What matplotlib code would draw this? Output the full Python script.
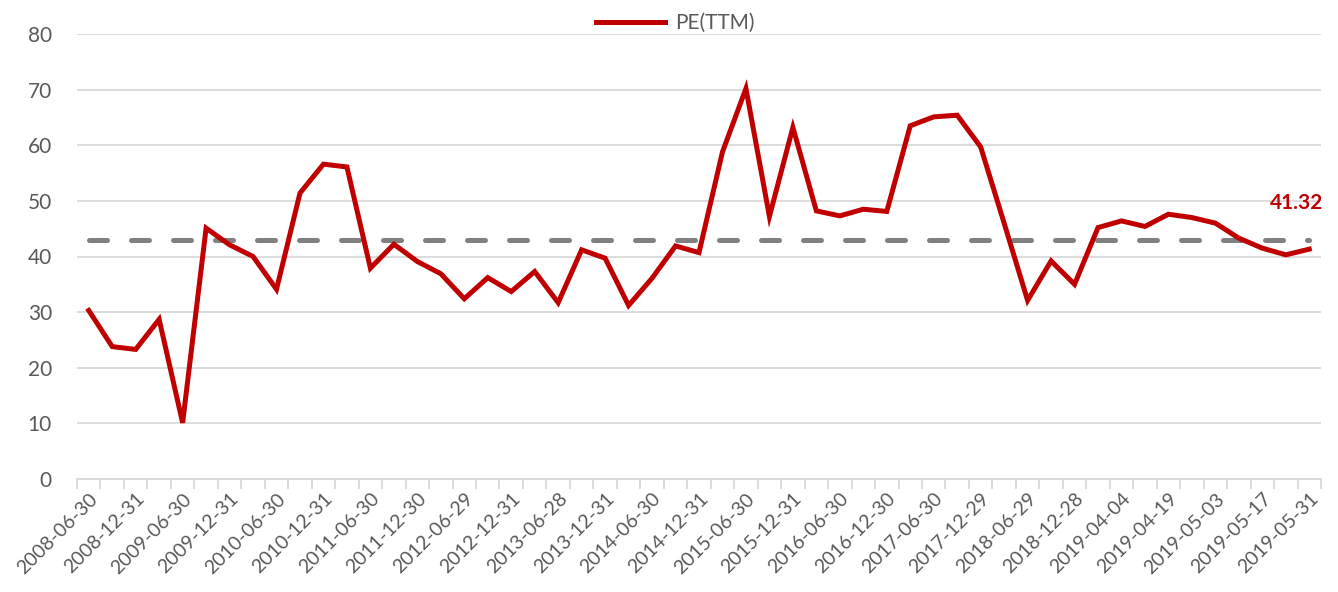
import matplotlib
matplotlib.use("Agg")
import matplotlib.pyplot as plt
import numpy as np

labels = ["2008-06-30", "2008-12-31", "2009-06-30", "2009-12-31", "2010-06-30",
          "2010-12-31", "2011-06-30", "2011-12-30", "2012-06-29", "2012-12-31",
          "2013-06-28", "2013-12-31", "2014-06-30", "2014-12-31", "2015-06-30",
          "2015-12-31", "2016-06-30", "2016-12-30", "2017-06-30", "2017-12-29",
          "2018-06-29", "2018-12-28", "2019-04-04", "2019-04-19", "2019-05-03",
          "2019-05-17", "2019-05-31"]

pe_ttm = [30.3, 23.8, 23.3, 28.7, 10.1, 45.1, 42.1, 40.0, 34.1, 51.4,
          56.6, 56.1, 37.9, 42.2, 39.1, 36.9, 32.4, 36.2, 33.7, 37.3,
          31.7, 41.2, 39.7, 31.2, 36.1, 41.9, 40.7, 58.8, 70.2, 47.2,
          63.2, 48.2, 47.3, 48.5, 48.1, 63.5, 65.1, 65.4, 59.7, 46.0,
          32.1, 39.2, 35.0, 45.2, 46.4, 45.4, 47.6, 47.0, 46.0, 43.3,
          41.5, 40.3, 41.32]

mean_value = 43.0

yticks = [0, 10, 20, 30, 40, 50, 60, 70, 80]

red = "#C00000"
grey_txt = "#595959"
grid_c = "#D9D9D9"
font = "Lato"

fig = plt.figure(figsize=(13.38, 5.92), dpi=100)
ax = fig.add_axes([77/1338, 1 - 479/592, (1321-77)/1338, (479-34)/592])
ax.set_facecolor("white")

n = len(pe_ttm)
x = np.arange(n)

ax.plot(x, [mean_value]*n, color="#808080", lw=3.6, dashes=(3.6, 4.8),
        dash_capstyle="round", solid_capstyle="round", zorder=2)
ax.plot(x, pe_ttm, color=red, lw=3.6, solid_joinstyle="miter", zorder=3,
        label="PE(TTM)")

ax.set_xlim(-0.5, n - 0.5)
ax.set_ylim(0, 80)
ax.set_yticks(yticks)
ax.set_yticklabels([str(v) for v in yticks], fontsize=15, color=grey_txt, family=font)
ax.yaxis.grid(True, color=grid_c, lw=1.3)
ax.set_axisbelow(True)
ax.tick_params(axis="y", length=0, pad=18)

for s in ["top", "right", "left"]:
    ax.spines[s].set_visible(False)
ax.spines["bottom"].set_color(grid_c)
ax.spines["bottom"].set_linewidth(1.3)

ax.set_xticks(np.arange(n + 1) - 0.5, minor=True)
ax.set_xticks(x[::2])
ax.set_xticklabels(labels, rotation=45, ha="right", rotation_mode="anchor",
                   fontsize=14, color=grey_txt, family=font)
ax.tick_params(axis="x", which="major", length=0, pad=8)
ax.tick_params(axis="x", which="minor", length=7, color=grid_c, width=1.3)

ax.annotate(f"{pe_ttm[-1]:.2f}", (x[-1], pe_ttm[-1]), xytext=(-9, 33),
            textcoords="offset points", ha="center", va="center",
            fontsize=15, fontweight="bold", color=red, family=font)

leg = fig.legend(loc="upper center", bbox_to_anchor=(0.505, 1.01), frameon=False,
                 prop={"family": font, "size": 15}, handlelength=3.3,
                 handletextpad=0.5)
for t in leg.get_texts():
    t.set_color(grey_txt)

fig.savefig("out.png", dpi=100)
